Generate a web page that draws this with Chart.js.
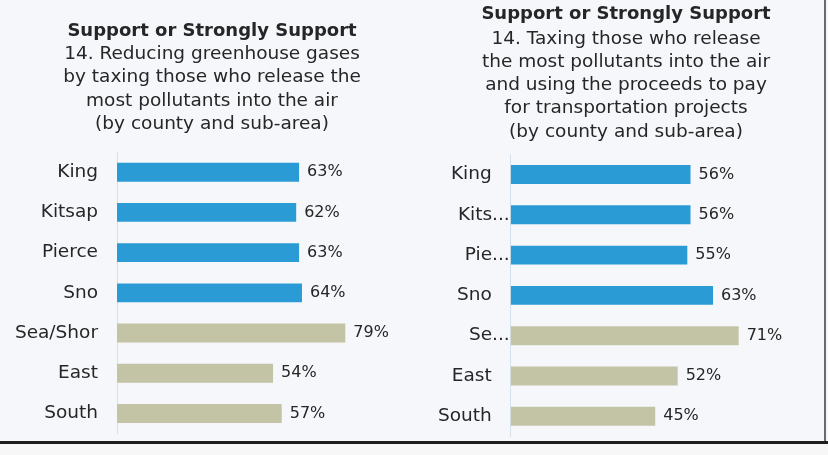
<!DOCTYPE html>
<html>
<head>
<meta charset="utf-8">
<script src="https://cdn.jsdelivr.net/npm/chart.js@4.4.1/dist/chart.umd.min.js"></script>
<style>
  html, body { margin: 0; padding: 0; }
  body { width: 828px; height: 455px; background: #f7f7f7; position: relative; overflow: hidden; }
  #paper { position: absolute; left: 0; top: 0; width: 828px; height: 442px; background: #f5f7fb; }
  #rule { position: absolute; left: 0; top: 441px; width: 828px; height: 3px; background: #1e1e1e; }
  #edge { position: absolute; left: 824px; top: 0; width: 2px; height: 442px; background: #6b6b6b; }
  canvas { position: absolute; top: 0; }
  #left { left: 0; }
  #right { left: 424px; }
</style>
</head>
<body>
<div id="paper"></div>
<canvas id="left" width="424" height="455"></canvas>
<canvas id="right" width="404" height="455"></canvas>
<div id="edge"></div>
<div id="rule"></div>
<script>
// left chart: Q14 reducing greenhouse gases
const leftLabels = ["King", "Kitsap", "Pierce", "Sno", "Sea/Shor", "East", "South"];
const leftValues = [63, 62, 63, 64, 79, 54, 57];
const leftTitle = "Support or Strongly Support";
const leftSubtitle = [
  "14. Reducing greenhouse gases",
  "by taxing those who release the",
  "most pollutants into the air",
  "(by county and sub-area)"
];

// right chart: Q14 taxing polluters for transportation
const rightLabels = ["King", "Kits...", "Pie...", "Sno", "Se...", "East", "South"];
const rightValues = [56, 56, 55, 63, 71, 52, 45];
const rightTitle = "Support or Strongly Support";
const rightSubtitle = [
  "14. Taxing those who release",
  "the most pollutants into the air",
  "and using the proceeds to pay",
  "for transportation projects",
  "(by county and sub-area)"
];

// county rows first, then sub-areas
const groups = ["county", "county", "county", "county", "area", "area", "area"];

const FONT = "'DejaVu Sans', sans-serif";
const TEXT = "#262626";
const groupColor = { county: "#2a9bd5", area: "#c3c4a5" };

const labelPlugin = {
  id: "barText",
  afterDraw(chart) {
    const ctx = chart.ctx;
    const meta = chart.getDatasetMeta(0);
    const ys = chart.scales.y;
    const left = chart.chartArea.left;
    const labels = chart.data.labels;
    const values = chart.data.datasets[0].data;
    ctx.save();
    ctx.fillStyle = TEXT;
    ctx.textBaseline = "middle";
    labels.forEach((lab, i) => {
      const y = ys.getPixelForValue(i);
      ctx.font = "18.5px " + FONT;
      ctx.textAlign = "right";
      const x = lab.endsWith("...") ? left - 1 : left - 19;
      ctx.fillText(lab, x, y);
      ctx.font = "16px " + FONT;
      ctx.textAlign = "left";
      ctx.fillText(values[i] + "%", meta.data[i].x + 8, y);
    });
    ctx.restore();
  }
};

function makeChart(id, labels, values, title, subtitle, opts) {
  new Chart(document.getElementById(id), {
    type: "bar",
    data: {
      labels: labels,
      datasets: [{
        data: values,
        backgroundColor: groups.map(g => groupColor[g]),
        barPercentage: 0.47,
        categoryPercentage: 1
      }]
    },
    options: {
      indexAxis: "y",
      responsive: false,
      animation: false,
      layout: { padding: { left: opts.side, right: opts.side, top: 0, bottom: opts.bottom } },
      scales: {
        x: { display: false, min: 0, max: opts.max },
        y: {
          display: true,
          ticks: { display: false },
          grid: { display: false },
          border: { display: true, color: "#d6e0ea", width: 1 },
          afterFit: s => { s.width = opts.axisWidth; }
        }
      },
      plugins: {
        legend: { display: false },
        tooltip: { enabled: false },
        title: {
          display: true,
          text: title,
          color: TEXT,
          font: { family: FONT, size: 18, weight: "bold", lineHeight: 1.3 },
          padding: { top: opts.titleTop, bottom: opts.titleBottom }
        },
        subtitle: {
          display: true,
          text: subtitle,
          color: TEXT,
          font: { family: FONT, size: 18.5, weight: "normal", lineHeight: 1.255 },
          padding: { top: 0, bottom: opts.subBottom }
        }
      }
    },
    plugins: [labelPlugin]
  });
}

makeChart("left", leftLabels, leftValues, leftTitle, leftSubtitle,
  { side: 18, axisWidth: 99, max: 100, bottom: 21.4, titleTop: 19.3, titleBottom: 0, subBottom: 16.5 });
makeChart("right", rightLabels, rightValues, rightTitle, rightSubtitle,
  { side: 28.3, axisWidth: 58.4, max: 90, bottom: 18.6, titleTop: 2.3, titleBottom: 1.7, subBottom: 10.9 });
</script>
</body>
</html>
